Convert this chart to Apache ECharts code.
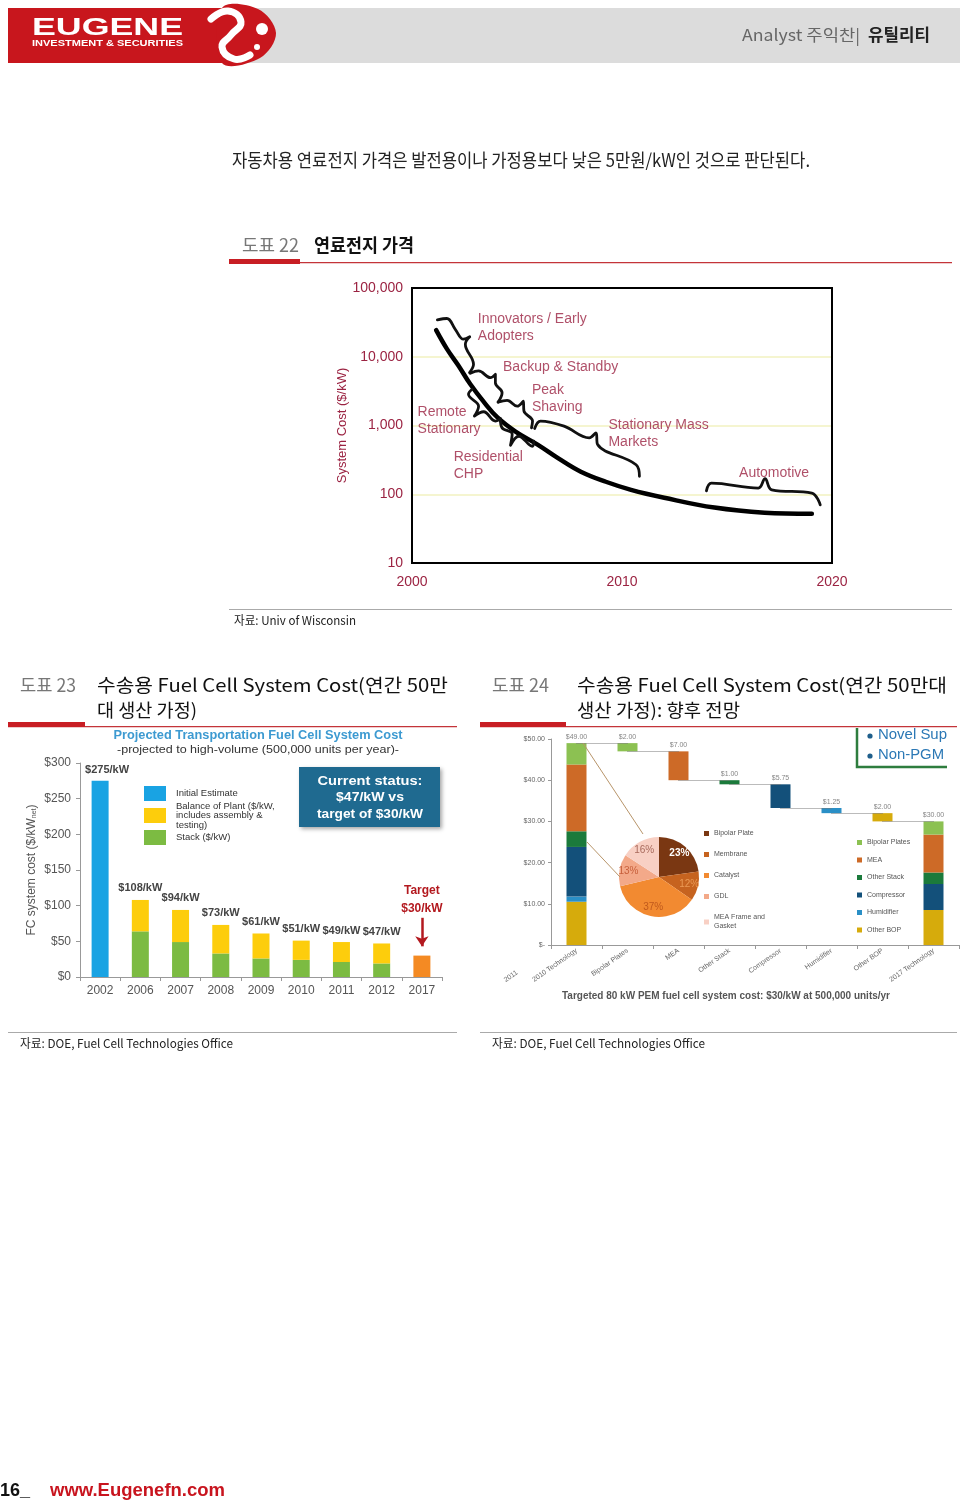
<!DOCTYPE html>
<html><head><meta charset="utf-8">
<script src="https://cdn.jsdelivr.net/npm/echarts@6/dist/echarts.min.js"></script>
<style>html,body{margin:0;padding:0;background:#fff}#c{width:960px;height:1506px}</style>
</head><body><div id="c"></div>
<script>
// ===== 도표 22 : 연료전지 가격 (log scale) =====
const c22Years = [2001.15, 2001.67, 2002.2, 2002.78, 2003.4, 2004.07, 2004.93, 2005.98, 2006.99, 2008.04, 2009.23, 2010.43, 2012.01, 2014.4, 2016.79, 2019.04];
const c22Cost  = [24400, 12900, 7520, 3970, 2240, 1310, 817, 528, 330, 213, 152, 116, 89, 64, 54, 52];
const braceInnovators  = [[2001.21,34400],[2001.66,36000],[2002.06,25100],[2002.45,18000],[2002.75,19500],[2002.54,15200],[2002.93,7760],[2002.74,5890]];
const braceBackup      = [[2002.78,5740],[2003.17,6210],[2003.73,4970],[2003.97,5550],[2003.97,4170],[2004.29,3000],[2004.1,2190]];
const bracePeak        = [[2004.1,2190],[2004.53,2320],[2005.01,1910],[2005.3,2260],[2005.33,1620],[2005.74,1160],[2005.69,925]];
const braceMass        = [[2005.84,904],[2006.12,1160],[2007.24,977],[2008.44,661],[2008.76,782],[2008.84,528],[2010.67,269],[2010.83,182]];
const braceRemote      = [[2002.86,3360],[2002.69,2840],[2003.17,1910],[2002.97,1370],[2003.41,1585],[2003.97,1160],[2004.21,1265]];
const braceResidential = [[2004.21,1225],[2004.29,925],[2004.77,757],[2004.69,515],[2005.09,698],[2005.73,499],[2005.8,590]];
const braceAutomotive  = [[2014.02,112],[2014.26,145],[2016.49,123],[2016.81,168],[2017.13,116],[2019.04,104],[2019.44,70]];
const c22NoteText = ['Innovators / Early\nAdopters','Backup & Standby','Peak\nShaving','Remote\nStationary','Stationary Mass\nMarkets','Residential\nCHP','Automotive'];
const c22NoteAt   = [[2003.11,26100],[2004.31,7030],[2005.69,2480],[2000.24,1180],[2009.33,764],[2001.96,261],[2015.55,200]];

// ===== 도표 23 : Projected Transportation Fuel Cell System Cost =====
const c23Years   = ['2002','2006','2007','2008','2009','2010','2011','2012','2017'];
const c23Initial = [275,'-','-','-','-','-','-','-','-'];
const c23Stack   = ['-',64,49,33,26,24,21,19,'-'];
const c23BOP     = ['-',44,45,40,35,27,28,28,'-'];
const c23Target  = ['-','-','-','-','-','-','-','-',30];
const c23Totals  = [275,108,94,73,61,51,49,47,30];

// ===== 도표 24 : waterfall 2010 -> 2017 =====
const c24Cats       = ['2010 Technology','Bipolar Plates','MEA','Other Stack','Compressor','Humidifier','Other BOP','2017 Technology'];
const c24Components = ['Other BOP','Humidifier','Compressor','Other Stack','MEA','Bipolar Plates']; // bottom -> top
const c24Start2010  = [10.5, 1.25, 12.05, 3.8, 16.2, 5.2];
const c24End2017    = [8.5, 0, 6.3, 2.8, 9.2, 3.2];
const c24Savings    = [2, 7, 1, 5.75, 1.25, 2]; // Bipolar Plates, MEA, Other Stack, Compressor, Humidifier, Other BOP
const pieNames = ['Bipolar Plate','Membrane','Catalyst','GDL','MEA Frame and\nGasket'];
const piePct   = [23, 12, 37, 13, 16];

// ---------- styles ----------
const FA = '"Liberation Sans", Arial, sans-serif';
const FK = '"Noto Sans CJK KR", "Noto Sans", sans-serif';
const MAROON = '#9b2342';
const CLEAR = 'rgba(0,0,0,0)';
const c24Colors = {'Other BOP':'#d6ab0c','Humidifier':'#2a8fc6','Compressor':'#13507a','Other Stack':'#1b7a3b','MEA':'#cd6a27','Bipolar Plates':'#8cc152'};
const pieColors = ['#7a3712','#c6631f','#f28a31','#f3a989','#f8d0c4'];
const pieLabelColors = ['#ffffff','#eb9a55','#c0591c','#c8603c','#a86a5c'];

const mctx = document.createElement('canvas').getContext('2d');
function T(x, y, text, o) {
  o = o || {};
  const font = (o.weight || 'normal') + ' ' + (o.size || 12) + 'px ' + (o.family || FA);
  let sx = 1;
  if (o.w) { mctx.font = font; sx = o.w / mctx.measureText(text).width; }
  return { type:'text', x:x, y:y, scaleX:sx, rotation:o.rot || 0, silent:true, z:100,
    style:{ text:text, font:font, fill:o.color || '#333', textAlign:o.align || 'left', align:o.align || 'left',
            textVerticalAlign:'middle', verticalAlign:'middle' } };
}
function R(x, y, w, h, fill, extraStyle) {
  return { type:'rect', silent:true, z:90, shape:{x:x, y:y, width:w, height:h}, style:Object.assign({fill:fill}, extraStyle || {}) };
}

// ---------- waterfall derived ----------
const c24Total2010 = c24Start2010.reduce((a,b)=>a+b,0);
const c24Tops = [c24Total2010];
const c24Base = [0];
(function(){
  let level = c24Total2010;
  for (let j = 1; j <= 6; j++) { c24Tops[j] = level; c24Base[j] = level - c24Savings[j-1]; level = c24Base[j]; }
  c24Tops[7] = c24End2017.reduce((a,b)=>a+b,0); c24Base[7] = 0;
})();
const c24LabelVals = [c24Total2010].concat(c24Savings, [c24Tops[7]]);

const series = [];
// chart 22
series.push({ type:'line', xAxisIndex:0, yAxisIndex:0, data:c22Years.map((y,i)=>[y,c22Cost[i]]), smooth:0.4,
  symbol:'none', silent:true, z:3, lineStyle:{color:'#000', width:4.5, cap:'round'} });
[braceInnovators, braceBackup, bracePeak, braceMass, braceRemote, braceResidential, braceAutomotive].forEach(b => {
  series.push({ type:'line', xAxisIndex:0, yAxisIndex:0, data:b, smooth:0.4, symbol:'none', silent:true, z:3,
    lineStyle:{color:'#111', width:2.8, cap:'round', join:'round'} });
});
series.push({ type:'scatter', xAxisIndex:0, yAxisIndex:0, symbolSize:1, silent:true, z:4, itemStyle:{color:CLEAR},
  data:c22NoteAt.map((p,i)=>({value:p, name:c22NoteText[i]})),
  label:{show:true, position:'right', distance:0, formatter:'{b}', color:MAROON, fontSize:14, fontFamily:FA,
    lineHeight:17, align:'left', verticalAlign:'middle'} });

// chart 23
const BOPNAME = 'Balance of Plant ($/kW,\nincludes assembly &\ntesting)';
series.push({ name:'Initial Estimate', type:'bar', stack:'c23', xAxisIndex:1, yAxisIndex:1, barWidth:17, data:c23Initial,
  itemStyle:{color:'#19a3e3'}, silent:true,
  label:{show:true, position:'top', offset:[7,0], distance:5, formatter:p=>'$'+p.value+'/kW', fontSize:11, fontWeight:'bold', color:'#444', fontFamily:FA} });
series.push({ name:'Stack ($/kW)', type:'bar', stack:'c23', xAxisIndex:1, yAxisIndex:1, barWidth:17, data:c23Stack,
  itemStyle:{color:'#7cbb42'}, silent:true });
series.push({ name:BOPNAME, type:'bar', stack:'c23', xAxisIndex:1, yAxisIndex:1, barWidth:17, data:c23BOP,
  itemStyle:{color:'#fdcd0c'}, silent:true,
  label:{show:true, position:'top', distance:6, formatter:p=>'$'+c23Totals[p.dataIndex]+'/kW', fontSize:11, fontWeight:'bold', color:'#444', fontFamily:FA} });
series.push({ name:'Target', type:'bar', stack:'c23', xAxisIndex:1, yAxisIndex:1, barWidth:17, data:c23Target,
  itemStyle:{color:'#f48a23'}, silent:true,
  label:{show:true, position:'top', distance:38, formatter:p=>'Target\n$'+p.value+'/kW', fontSize:12, fontWeight:'bold', lineHeight:18, color:'#b3191f', fontFamily:FA},
  markLine:{silent:true, symbol:['none','arrow'], symbolSize:10, label:{show:false},
    lineStyle:{color:'#b3191f', width:2.5, type:'solid'}, data:[[{coord:[8,83]},{coord:[8,43]}]]} });

// chart 24 waterfall
series.push({ name:'base', type:'bar', stack:'wf', xAxisIndex:2, yAxisIndex:2, barWidth:20, data:c24Base,
  itemStyle:{color:CLEAR}, silent:true, z:1,
  markLine:{silent:true, symbol:['none','none'], label:{show:false}, lineStyle:{color:'#777', width:1, type:'dotted'},
    data:c24Tops.slice(1).map((t,k)=>[{coord:[k, t]},{coord:[k+1, t]}])} });
c24Components.forEach((comp, k) => {
  const d = c24Cats.map((cat, j) => {
    if (j === 0) return c24Start2010[k];
    if (j === 7) return c24End2017[k];
    return cat === comp ? c24Savings[j-1] : 0;
  });
  series.push({ name:comp, type:'bar', stack:'wf', xAxisIndex:2, yAxisIndex:2, barWidth:20, data:d,
    itemStyle:{color:c24Colors[comp]}, silent:true, z:3 });
});
series.push({ type:'scatter', xAxisIndex:2, yAxisIndex:2, symbolSize:1, itemStyle:{color:CLEAR}, silent:true, z:4,
  data:c24Tops.map((t,j)=>[j,t]),
  label:{show:true, position:'top', distance:2, formatter:p=>'$'+c24LabelVals[p.dataIndex].toFixed(2), fontSize:7, color:'#666', fontFamily:FA} });
series.push({ type:'pie', center:[659,877], radius:40, startAngle:90, clockwise:true, silent:true, z:5,
  itemStyle:{borderWidth:0}, label:{show:false}, labelLine:{show:false},
  data:pieNames.map((n,i)=>({name:n, value:piePct[i], itemStyle:{color:pieColors[i]}})) });
series.push({ type:'pie', center:[659,877], radius:56, startAngle:90, clockwise:true, silent:true, z:6,
  itemStyle:{color:CLEAR, borderWidth:0}, labelLine:{show:false},
  label:{show:true, position:'inside', formatter:'{c}%', fontSize:10, fontFamily:FA},
  data:piePct.map((v,i)=>({name:'lbl'+i, value:v, label:{color:pieLabelColors[i], fontWeight:i===0?'bold':'normal'}})) });

// ---------- page graphics ----------
const g = [];
// header
g.push(R(8, 8, 952, 55, '#dcdcdc'));
g.push(R(8, 8, 222, 55, '#c8161d'));
g.push({ type:'polygon', silent:true, z:91, shape:{points:[[222,8],[258,9],[276,33],[260,58],[222,63]], smooth:0.35}, style:{fill:'#c8161d'} });
g.push({ type:'polyline', silent:true, z:92, shape:{points:[[211,19],[228,11],[241,22],[231,35],[222,47],[234,59],[250,55]], smooth:0.5}, style:{stroke:'#fff', lineWidth:7, fill:null, lineCap:'round'} });
g.push({ type:'circle', silent:true, z:92, shape:{cx:262, cy:29, r:6}, style:{fill:'#fff'} });
g.push({ type:'circle', silent:true, z:92, shape:{cx:257, cy:47, r:3}, style:{fill:'#fff'} });
g.push(T(32, 28, 'EUGENE', {size:24, weight:'bold', color:'#fff', w:151}));
g.push(T(32, 44, 'INVESTMENT & SECURITIES', {size:9, weight:'bold', color:'#fff', w:151}));
g.push(T(742, 35, 'Analyst 주익찬|', {size:16, family:FK, color:'#666', w:118}));
g.push(T(868, 35, '유틸리티', {size:17, family:FK, weight:'bold', color:'#222', w:62}));

// intro
g.push(T(232, 160, '자동차용 연료전지 가격은 발전용이나 가정용보다 낮은 5만원/kW인 것으로 판단된다.', {size:18, family:FK, color:'#222', w:578}));

// 도표 22 heading
g.push(T(242, 245, '도표 22', {size:18, family:FK, color:'#777', w:57}));
g.push(T(314, 245, '연료전지 가격', {size:18, family:FK, weight:'bold', color:'#111', w:100}));
g.push(R(229, 262, 723, 1.2, '#c4343a'));
g.push(R(229, 259, 71, 5, '#c81e24'));
g.push(R(229, 609, 723, 1, '#aaaaaa'));
g.push(T(234, 620, '자료: Univ of Wisconsin', {size:12, family:FK, color:'#222', w:122}));

// 도표 23 heading
g.push(T(20, 685, '도표 23', {size:18, family:FK, color:'#777', w:56}));
g.push(T(97, 685, '수송용 Fuel Cell System Cost(연간 50만', {size:18, family:FK, color:'#111', w:351}));
g.push(T(97, 710, '대 생산 가정)', {size:18, family:FK, color:'#111', w:100}));
g.push(R(8, 726, 449, 1.2, '#c4343a'));
g.push(R(8, 722, 77, 5, '#c81e24'));
// 도표 24 heading
g.push(T(492, 685, '도표 24', {size:18, family:FK, color:'#777', w:57}));
g.push(T(577, 685, '수송용 Fuel Cell System Cost(연간 50만대', {size:18, family:FK, color:'#111', w:370}));
g.push(T(577, 710, '생산 가정): 향후 전망', {size:18, family:FK, color:'#111', w:163}));
g.push(R(480, 726, 477, 1.2, '#c4343a'));
g.push(R(480, 722, 86, 5, '#c81e24'));

// chart 23 texts
g.push(T(258, 736, 'Projected Transportation Fuel Cell System Cost', {size:12, weight:'bold', color:'#3d9ad1', align:'center', w:289}));
g.push(T(258, 750, '-projected to high-volume (500,000 units per year)-', {size:11, color:'#333', align:'center', w:282}));
g.push(R(299, 767, 141, 60, '#1f6a90', {shadowBlur:4, shadowColor:'rgba(0,0,0,0.35)', shadowOffsetX:2, shadowOffsetY:2}));
g.push(T(370, 781, 'Current status:', {size:13.5, weight:'bold', color:'#fff', align:'center', w:105}));
g.push(T(370, 797, '$47/kW vs', {size:13.5, weight:'bold', color:'#fff', align:'center', w:68}));
g.push(T(370, 814, 'target of $30/kW', {size:13.5, weight:'bold', color:'#fff', align:'center', w:106}));

// chart 24 texts
g.push({ type:'polyline', silent:true, z:95, shape:{points:[[857,728],[857,767],[947,767]]}, style:{stroke:'#2e7d3e', lineWidth:2.5, fill:null} });
g.push({ type:'circle', silent:true, z:95, shape:{cx:870, cy:736, r:2.6}, style:{fill:'#1f5f8b'} });
g.push({ type:'circle', silent:true, z:95, shape:{cx:870, cy:756, r:2.6}, style:{fill:'#1f5f8b'} });
g.push(T(878, 735, 'Novel Sup', {size:14, color:'#2b78b5', w:69}));
g.push(T(878, 755, 'Non-PGM', {size:14, color:'#2b78b5', w:66}));
g.push(T(517, 972, '2011', {size:7, color:'#666', align:'right', rot:35*Math.PI/180}));
g.push({ type:'line', silent:true, z:95, shape:{x1:583, y1:743, x2:643, y2:834}, style:{stroke:'#b8956a', lineWidth:1} });
g.push({ type:'line', silent:true, z:95, shape:{x1:587, y1:842, x2:620, y2:877}, style:{stroke:'#b8956a', lineWidth:1} });
g.push(T(726, 996, 'Targeted 80 kW PEM fuel cell system cost: $30/kW at 500,000 units/yr', {size:10, weight:'bold', color:'#555', align:'center', w:328}));

// sources
g.push(R(8, 1032, 449, 1, '#aaaaaa'));
g.push(R(480, 1032, 477, 1, '#aaaaaa'));
g.push(T(20, 1043, '자료: DOE, Fuel Cell Technologies Office', {size:12, family:FK, color:'#222', w:213}));
g.push(T(492, 1043, '자료: DOE, Fuel Cell Technologies Office', {size:12, family:FK, color:'#222', w:213}));

// footer
g.push(T(0, 1491, '16_', {size:18, weight:'bold', color:'#111'}));
g.push(T(50, 1491, 'www.Eugenefn.com', {size:18, weight:'bold', color:'#c8141e', w:175}));

const chart = echarts.init(document.getElementById('c'), null, {renderer:'canvas', width:960, height:1506});
chart.setOption({
  animation:false,
  backgroundColor:'#ffffff',
  textStyle:{fontFamily:FA},
  tooltip:{show:false},
  grid:[
    {left:412, top:288, width:420, height:275, show:true, borderColor:'#000', borderWidth:2, backgroundColor:CLEAR, outerBoundsMode:'none', z:5},
    {left:80, top:763, width:362, height:214, outerBoundsMode:'none'},
    {left:551, top:739, width:408, height:206, outerBoundsMode:'none'}
  ],
  xAxis:[
    {gridIndex:0, type:'value', min:2000, max:2020, interval:10, axisLine:{show:false}, axisTick:{show:false}, splitLine:{show:false},
     axisLabel:{color:MAROON, fontSize:14, margin:12, fontFamily:FA, formatter:v=>String(v)}},
    {gridIndex:1, type:'category', data:c23Years, axisLine:{show:true, lineStyle:{color:'#999'}},
     axisTick:{show:true, alignWithLabel:false, length:4, lineStyle:{color:'#999'}}, axisLabel:{color:'#555', fontSize:12, margin:8, fontFamily:FA}},
    {gridIndex:2, type:'category', data:c24Cats, axisLine:{show:true, lineStyle:{color:'#999'}},
     axisTick:{show:true, alignWithLabel:false, length:4, lineStyle:{color:'#999'}},
     axisLabel:{rotate:35, interval:0, fontSize:7, color:'#666', margin:5, fontFamily:FA}}
  ],
  yAxis:[
    {gridIndex:0, type:'log', logBase:10, min:10, max:100000, axisLine:{show:false}, axisTick:{show:false},
     splitLine:{show:true, showMinLine:false, showMaxLine:false, lineStyle:{color:'#f2f2c0', width:1.5}},
     axisLabel:{color:MAROON, fontSize:14, margin:9, fontFamily:FA, formatter:v=>Math.round(v).toLocaleString('en-US')},
     name:'System Cost ($/kW)', nameLocation:'middle', nameGap:44, nameTextStyle:{color:MAROON, fontSize:13, fontFamily:FA}},
    {gridIndex:1, type:'value', min:0, max:300, interval:50, axisLine:{show:true, lineStyle:{color:'#999'}},
     axisTick:{show:true, length:4, lineStyle:{color:'#999'}}, splitLine:{show:false},
     axisLabel:{formatter:'${value}', color:'#555', fontSize:12, margin:9, fontFamily:FA},
     name:'FC system cost ($/kW{s|net})', nameLocation:'middle', nameGap:42,
     nameTextStyle:{color:'#555', fontSize:12, fontFamily:FA, rich:{s:{fontSize:7, color:'#555', verticalAlign:'bottom', padding:[6,0,0,0]}}}},
    {gridIndex:2, type:'value', min:0, max:50, interval:10, axisLine:{show:true, lineStyle:{color:'#999'}},
     axisTick:{show:true, length:3, lineStyle:{color:'#999'}}, splitLine:{show:false},
     axisLabel:{fontSize:7, color:'#666', margin:6, fontFamily:FA, formatter:v=>v===0?'$-':'$'+v.toFixed(2)}}
  ],
  legend:[
    {orient:'vertical', left:144, top:786, padding:0, itemWidth:22, itemHeight:15, itemGap:0, icon:'rect', selectedMode:false,
     data:['Initial Estimate', BOPNAME, 'Stack ($/kW)'],
     textStyle:{fontSize:9.5, lineHeight:9.5, color:'#333', fontFamily:FA, padding:[0,0,0,5]}},
    {orient:'vertical', left:857, top:838, padding:0, itemWidth:5, itemHeight:5, itemGap:8.5, icon:'rect', selectedMode:false,
     data:c24Components.slice().reverse(), textStyle:{fontSize:7, lineHeight:9, color:'#555', fontFamily:FA}},
    {orient:'vertical', left:704, top:829, padding:0, itemWidth:5, itemHeight:5, itemGap:12, icon:'rect', selectedMode:false,
     data:pieNames, textStyle:{fontSize:7, lineHeight:9, color:'#555', fontFamily:FA}}
  ],
  series:series,
  graphic:{elements:g}
});
</script>
</body></html>
